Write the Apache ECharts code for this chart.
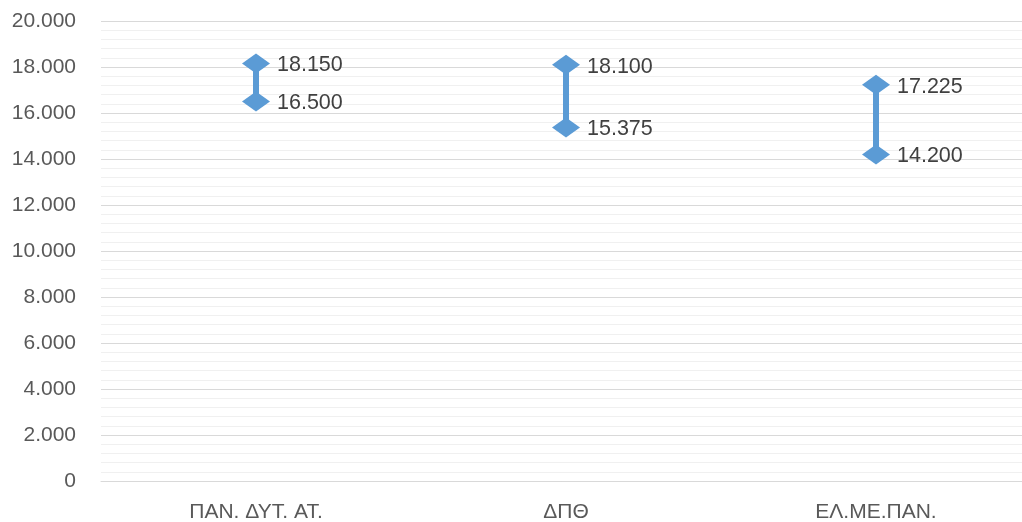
<!DOCTYPE html>
<html>
<head>
<meta charset="utf-8">
<script src="https://cdn.jsdelivr.net/npm/echarts@6/dist/echarts.min.js"></script>
<style>html,body{margin:0;padding:0;background:#fff}#c{width:1022px;height:522px}</style>
</head>
<body>
<div id="c"></div>
<script>
var categories = ['ΠΑΝ. ΔΥΤ. ΑΤ.', 'ΔΠΘ', 'ΕΛ.ΜΕ.ΠΑΝ.'];
var highValues = [18150, 18100, 17225];
var lowValues = [16500, 15375, 14200];
var yTicks = [0, 2000, 4000, 6000, 8000, 10000, 12000, 14000, 16000, 18000, 20000];

function fmt(v) {
  return String(Math.round(v)).replace(/\B(?=(\d{3})+(?!\d))/g, '.');
}
var FONT = '"Liberation Sans", Arial, sans-serif';
var BLUE = '#5B9BD5';

var rangeData = categories.map(function (c, i) { return [i, lowValues[i], highValues[i]]; });

var labelCfg = { show: true, position: 'right', distance: 7, offset: [0, 2], color: '#404040', fontSize: 21.5, fontFamily: FONT, formatter: function (p) { return fmt(p.value); } };

var chart = echarts.init(document.getElementById('c'), null, { renderer: 'canvas' });
chart.setOption({
  animation: false,
  backgroundColor: '#fff',
  grid: { left: 101, top: 21, width: 930, height: 460, containLabel: false, outerBoundsMode: 'none' },
  xAxis: {
    type: 'category',
    data: categories,
    boundaryGap: true,
    axisLine: { show: true, lineStyle: { color: '#d9d9d9', width: 1 } },
    axisTick: { show: false },
    axisLabel: { color: '#595959', fontSize: 21, fontFamily: FONT, margin: 21 }
  },
  yAxis: {
    type: 'value',
    min: yTicks[0],
    max: yTicks[yTicks.length - 1],
    interval: 2000,
    axisLine: { show: false },
    axisTick: { show: false },
    minorTick: { show: false, splitNumber: 5 },
    splitLine: { show: true, lineStyle: { color: '#d9d9d9', width: 1 } },
    minorSplitLine: { show: true, lineStyle: { color: '#f0f0f0', width: 1 } },
    axisLabel: { color: '#595959', fontSize: 21, fontFamily: FONT, margin: 25, formatter: fmt }
  },
  series: [
    {
      type: 'custom',
      data: rangeData,
      z: 2,
      renderItem: function (params, api) {
        var p1 = api.coord([api.value(0), api.value(1)]);
        var p2 = api.coord([api.value(0), api.value(2)]);
        return {
          type: 'line',
          shape: { x1: p1[0], y1: p1[1], x2: p2[0], y2: p2[1] },
          style: { stroke: BLUE, lineWidth: 6 }
        };
      }
    },
    {
      type: 'scatter',
      data: highValues,
      symbol: 'diamond',
      symbolSize: [28, 20],
      itemStyle: { color: BLUE, opacity: 1 },
      z: 3,
      label: labelCfg
    },
    {
      type: 'scatter',
      data: lowValues,
      symbol: 'diamond',
      symbolSize: [28, 20],
      itemStyle: { color: BLUE, opacity: 1 },
      z: 3,
      label: labelCfg
    }
  ]
});
</script>
</body>
</html>
